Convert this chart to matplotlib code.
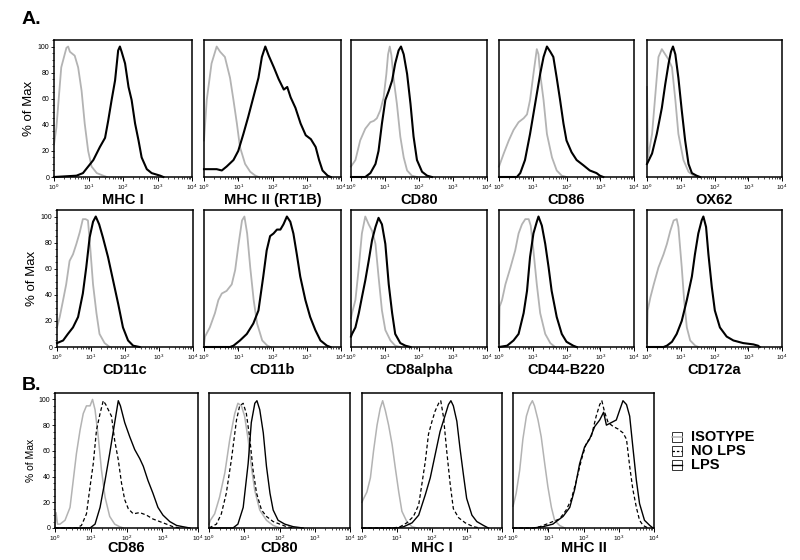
import numpy as np
import matplotlib
matplotlib.use('Agg')
import matplotlib.pyplot as plt
from matplotlib.ticker import LogLocator, MultipleLocator, NullFormatter
from matplotlib.patches import Rectangle
from matplotlib.lines import Line2D

plt.rcParams['font.family'] = ['Liberation Sans', 'DejaVu Sans']

# x values are log10 fluorescence (decades), y values are % of Max
# --- panel A, row 1 ---
mhci_iso_x = [0.00, 0.07, 0.21, 0.36, 0.41, 0.46, 0.60, 0.70, 0.80, 0.89, 0.99, 1.09, 1.24, 1.43, 1.53]
mhci_iso_y = [25, 38, 84, 99, 100, 96, 93, 84, 66, 41, 20, 8, 3, 1, 0]
mhci_x = [0.0, 0.65, 0.84, 0.99, 1.14, 1.33, 1.48, 1.57, 1.67, 1.77, 1.86, 1.91, 1.96, 2.06, 2.16, 2.25,
          2.35, 2.45, 2.54, 2.69, 2.83, 3.08, 3.17]
mhci_y = [0, 1, 3, 8, 13, 23, 30, 43, 59, 74, 97, 100, 96, 87, 69, 59, 41, 28, 15, 6, 3, 1, 0]

mhcii_iso_x = [0.0, 0.08, 0.22, 0.37, 0.47, 0.61, 0.76, 0.86, 0.96, 1.05, 1.20, 1.35, 1.50, 1.60]
mhcii_iso_y = [28, 59, 87, 100, 96, 92, 76, 59, 41, 23, 10, 4, 1, 0]
mhcii_x = [0.0, 0.37, 0.52, 0.66, 0.86, 1.00, 1.15, 1.29, 1.44, 1.59, 1.69, 1.79, 1.89, 2.04, 2.18, 2.33,
           2.43, 2.53, 2.67, 2.82, 2.97, 3.12, 3.26, 3.36, 3.46, 3.61, 3.70]
mhcii_y = [6, 6, 5, 8, 13, 20, 33, 46, 61, 76, 92, 100, 93, 84, 75, 67, 69, 61, 53, 41, 32, 29, 23, 13, 5, 1, 0]

cd80_iso_x = [0.0, 0.13, 0.27, 0.42, 0.57, 0.67, 0.76, 0.86, 0.96, 1.04, 1.09, 1.14, 1.19, 1.25, 1.35,
              1.45, 1.55, 1.65, 1.79, 1.94]
cd80_iso_y = [8, 13, 28, 37, 42, 43, 45, 51, 61, 79, 94, 100, 93, 76, 56, 31, 15, 5, 1, 0]
cd80_x = [0.0, 0.42, 0.57, 0.72, 0.81, 0.91, 1.01, 1.11, 1.21, 1.30, 1.40, 1.47, 1.55, 1.65, 1.75, 1.84,
          1.94, 2.09, 2.24, 2.38]
cd80_y = [0, 0, 3, 10, 20, 41, 59, 66, 74, 87, 97, 100, 94, 79, 56, 31, 13, 4, 1, 0]

cd86_iso_x = [0.0, 0.14, 0.29, 0.43, 0.58, 0.73, 0.83, 0.92, 1.02, 1.12, 1.17, 1.22, 1.32, 1.42, 1.57,
              1.71, 1.86, 2.00]
cd86_iso_y = [8, 18, 28, 36, 42, 45, 48, 59, 79, 98, 94, 79, 59, 33, 15, 5, 1, 0]
cd86_x = [0.0, 0.53, 0.63, 0.77, 0.92, 1.07, 1.22, 1.32, 1.42, 1.52, 1.61, 1.71, 1.81, 1.91, 2.00, 2.15,
          2.30, 2.50, 2.69, 2.89, 2.99, 3.09]
cd86_y = [0, 0, 3, 13, 33, 56, 79, 92, 100, 96, 92, 76, 59, 41, 28, 19, 13, 9, 5, 3, 1, 0]

ox62_iso_x = [0.0, 0.03, 0.15, 0.25, 0.34, 0.44, 0.54, 0.64, 0.74, 0.84, 0.93, 1.08, 1.23, 1.38, 1.52]
ox62_iso_y = [69, 15, 33, 64, 92, 98, 94, 90, 84, 59, 33, 13, 4, 1, 0]
ox62_x = [0.0, 0.15, 0.29, 0.44, 0.54, 0.64, 0.71, 0.77, 0.84, 0.93, 1.03, 1.13, 1.23, 1.33, 1.47, 1.57]
ox62_y = [10, 18, 33, 53, 71, 87, 96, 100, 94, 76, 51, 28, 10, 3, 1, 0]

# --- panel A, row 2 ---
cd11c_iso_x = [0.0, 0.08, 0.18, 0.27, 0.37, 0.47, 0.57, 0.67, 0.76, 0.84, 0.91, 0.96, 1.06, 1.16, 1.25,
               1.40, 1.55]
cd11c_iso_y = [15, 23, 36, 48, 66, 71, 79, 88, 98, 98, 97, 82, 48, 26, 10, 3, 0]
cd11c_x = [0.0, 0.18, 0.32, 0.47, 0.62, 0.76, 0.86, 0.96, 1.06, 1.14, 1.24, 1.35, 1.50, 1.65, 1.80, 1.94,
           2.09, 2.24, 2.43]
cd11c_y = [3, 5, 10, 15, 23, 41, 61, 84, 96, 100, 94, 84, 69, 51, 33, 15, 5, 1, 0]

cd11b_iso_x = [0.0, 0.03, 0.17, 0.32, 0.42, 0.52, 0.66, 0.81, 0.91, 1.01, 1.11, 1.18, 1.26, 1.35, 1.45,
               1.55, 1.70, 1.85, 1.94]
cd11b_iso_y = [2, 8, 15, 26, 36, 41, 43, 48, 59, 79, 97, 100, 87, 61, 36, 18, 5, 1, 0]
cd11b_x = [0.0, 0.76, 0.86, 1.05, 1.25, 1.44, 1.59, 1.73, 1.83, 1.93, 2.03, 2.13, 2.23, 2.32, 2.42, 2.52,
           2.61, 2.71, 2.81, 2.96, 3.10, 3.25, 3.40, 3.59, 3.69]
cd11b_y = [0, 0, 1, 5, 10, 18, 28, 54, 74, 85, 87, 90, 90, 94, 100, 96, 87, 71, 54, 36, 23, 13, 5, 1, 0]

cd8a_iso_x = [0.0, 0.03, 0.13, 0.23, 0.32, 0.42, 0.52, 0.62, 0.72, 0.81, 0.91, 1.01, 1.16, 1.30, 1.45]
cd8a_iso_y = [22, 26, 36, 61, 87, 100, 94, 89, 79, 54, 28, 13, 5, 1, 0]
cd8a_x = [0.0, 0.03, 0.13, 0.23, 0.32, 0.42, 0.52, 0.62, 0.72, 0.81, 0.91, 1.01, 1.11, 1.21, 1.30, 1.45,
          1.60, 1.75]
cd8a_y = [8, 10, 15, 26, 38, 51, 66, 82, 92, 99, 94, 79, 48, 26, 10, 3, 1, 0]

cd44_iso_x = [0.0, 0.02, 0.09, 0.19, 0.34, 0.48, 0.58, 0.68, 0.78, 0.88, 0.94, 1.02, 1.12, 1.22, 1.37,
              1.52, 1.66]
cd44_iso_y = [3, 31, 36, 48, 61, 74, 87, 94, 98, 98, 93, 74, 48, 26, 10, 3, 0]
cd44_x = [0.0, 0.24, 0.43, 0.58, 0.73, 0.83, 0.92, 1.02, 1.12, 1.17, 1.27, 1.37, 1.47, 1.56, 1.71, 1.86,
          2.00, 2.20, 2.30]
cd44_y = [0, 1, 5, 10, 26, 43, 69, 87, 96, 100, 93, 79, 61, 43, 23, 10, 4, 1, 0]

cd172_iso_x = [0.0, 0.02, 0.10, 0.20, 0.34, 0.49, 0.59, 0.69, 0.79, 0.88, 0.93, 1.03, 1.10, 1.18, 1.28,
               1.43, 1.52]
cd172_iso_y = [3, 28, 38, 48, 61, 71, 79, 89, 97, 98, 92, 61, 36, 15, 5, 1, 0]
cd172_x = [0.0, 0.49, 0.59, 0.74, 0.88, 1.03, 1.18, 1.33, 1.42, 1.52, 1.62, 1.67, 1.75, 1.82, 1.92, 2.01,
           2.16, 2.36, 2.56, 2.85, 3.15, 3.29, 3.34]
cd172_y = [0, 0, 1, 4, 10, 20, 36, 54, 71, 87, 97, 100, 92, 71, 46, 28, 15, 8, 5, 3, 2, 1, 0]

# --- panel B (isotype / no LPS / LPS) ---
b_cd86_iso_x = [0.0, 0.03, 0.07, 0.14, 0.28, 0.42, 0.51, 0.60, 0.70, 0.79, 0.88, 0.98, 1.05, 1.12, 1.21,
                1.30, 1.40, 1.53, 1.67, 1.81, 1.91]
b_cd86_iso_y = [1, 12, 3, 3, 6, 16, 37, 58, 76, 89, 95, 95, 100, 92, 71, 45, 24, 9, 3, 1, 0]
b_cd86_nolps_x = [0.0, 0.60, 0.74, 0.88, 0.98, 1.07, 1.16, 1.26, 1.35, 1.42, 1.49, 1.58, 1.67, 1.77, 1.86,
                  1.95, 2.05, 2.19, 2.37, 2.56, 2.74, 2.93, 3.12, 3.30, 3.49]
b_cd86_nolps_y = [0, 0, 2, 11, 32, 50, 76, 89, 99, 96, 92, 87, 68, 53, 35, 22, 15, 11, 12, 10, 7, 5, 3, 1, 0]
b_cd86_lps_x = [0.0, 0.98, 1.12, 1.26, 1.40, 1.53, 1.67, 1.77, 1.83, 1.95, 2.09, 2.23, 2.37, 2.47, 2.60,
                2.74, 2.88, 3.02, 3.21, 3.40, 3.58, 3.77]
b_cd86_lps_y = [0, 0, 3, 16, 37, 58, 82, 99, 95, 82, 71, 61, 54, 48, 37, 27, 16, 10, 5, 2, 1, 0]

b_cd80_iso_x = [0.0, 0.04, 0.16, 0.30, 0.45, 0.59, 0.73, 0.82, 0.92, 1.01, 1.11, 1.20, 1.30, 1.44, 1.63,
                1.82, 2.01]
b_cd80_iso_y = [3, 6, 11, 24, 43, 69, 89, 97, 95, 87, 69, 48, 29, 14, 6, 2, 0]
b_cd80_nolps_x = [0.0, 0.07, 0.21, 0.35, 0.49, 0.64, 0.78, 0.87, 0.97, 1.06, 1.16, 1.25, 1.35, 1.49, 1.63,
                  1.82, 2.01, 2.20, 2.39]
b_cd80_nolps_y = [0, 1, 3, 11, 27, 54, 84, 95, 97, 89, 69, 45, 27, 14, 9, 5, 3, 1, 0]
b_cd80_lps_x = [0.0, 0.68, 0.82, 0.97, 1.11, 1.20, 1.30, 1.36, 1.44, 1.54, 1.63, 1.73, 1.82, 1.96, 2.15,
                2.39, 2.67]
b_cd80_lps_y = [0, 0, 3, 16, 50, 82, 97, 99, 92, 74, 48, 27, 14, 6, 3, 1, 0]

b_mhci_iso_x = [0.0, 0.03, 0.14, 0.24, 0.33, 0.43, 0.52, 0.59, 0.67, 0.76, 0.86, 0.95, 1.05, 1.14, 1.28,
                1.43, 1.57]
b_mhci_iso_y = [20, 22, 28, 39, 60, 80, 93, 99, 91, 80, 65, 47, 28, 13, 5, 1, 0]
b_mhci_nolps_x = [0.0, 0.90, 1.09, 1.28, 1.47, 1.62, 1.71, 1.81, 1.90, 2.00, 2.09, 2.19, 2.25, 2.33, 2.42,
                  2.52, 2.61, 2.76, 2.95, 3.18, 3.37]
b_mhci_nolps_y = [0, 0, 1, 4, 9, 18, 34, 52, 73, 83, 91, 97, 99, 86, 60, 34, 15, 8, 4, 1, 0]
b_mhci_lps_x = [0.0, 1.00, 1.19, 1.43, 1.62, 1.81, 1.95, 2.09, 2.23, 2.38, 2.47, 2.54, 2.61, 2.71, 2.80,
                2.90, 2.99, 3.14, 3.28, 3.47, 3.61]
b_mhci_lps_y = [0, 0, 1, 4, 10, 26, 39, 57, 75, 88, 96, 99, 95, 83, 62, 41, 23, 10, 5, 2, 0]

b_mhcii_iso_x = [0.0, 0.02, 0.09, 0.19, 0.28, 0.38, 0.47, 0.55, 0.61, 0.71, 0.80, 0.90, 0.99, 1.09, 1.18,
                 1.32, 1.47]
b_mhcii_iso_y = [17, 19, 27, 45, 69, 87, 95, 99, 95, 84, 71, 50, 32, 16, 6, 2, 0]
b_mhcii_nolps_x = [0.0, 0.57, 0.76, 0.95, 1.13, 1.32, 1.51, 1.65, 1.80, 1.94, 2.08, 2.22, 2.36, 2.46, 2.52,
                   2.60, 2.70, 2.84, 2.98, 3.12, 3.22, 3.31, 3.40, 3.50, 3.59, 3.69, 3.83]
b_mhcii_nolps_y = [0, 0, 1, 3, 5, 7, 14, 22, 37, 53, 66, 71, 87, 96, 99, 90, 82, 79, 77, 74, 69, 48, 30, 16,
                   6, 2, 0]
b_mhcii_lps_x = [0.0, 0.57, 0.85, 1.13, 1.42, 1.61, 1.75, 1.89, 2.03, 2.17, 2.32, 2.46, 2.57, 2.65, 2.79,
                 2.93, 3.03, 3.12, 3.22, 3.31, 3.40, 3.50, 3.59, 3.73, 3.88, 3.97]
b_mhcii_lps_y = [0, 0, 1, 3, 9, 16, 30, 50, 63, 69, 79, 84, 90, 80, 82, 84, 92, 99, 96, 87, 63, 37, 19, 6,
                 2, 0]

legend_labels = ['ISOTYPE', 'NO LPS', 'LPS']

GRAY = '#b3b3b3'
W, H = 800, 560

# styles: (color, linestyle, linewidth)
STY = {
    'iso': (GRAY, '-', 1.3),
    'pos': ('black', '-', 1.5),
    'iso_b': (GRAY, '-', 1.1),
    'nolps': ('black', (0, (3, 2)), 0.9),
    'lps': ('black', '-', 1.0),
}

# (label, left, top, width, height) in pixels, curves
panels = [
    ('MHC I', (54, 40, 138, 137), [(mhci_iso_x, mhci_iso_y, 'iso'), (mhci_x, mhci_y, 'pos')]),
    ('MHC II (RT1B)', (204, 40, 137, 137), [(mhcii_iso_x, mhcii_iso_y, 'iso'), (mhcii_x, mhcii_y, 'pos')]),
    ('CD80', (351, 40, 136, 137), [(cd80_iso_x, cd80_iso_y, 'iso'), (cd80_x, cd80_y, 'pos')]),
    ('CD86', (499, 40, 135, 137), [(cd86_iso_x, cd86_iso_y, 'iso'), (cd86_x, cd86_y, 'pos')]),
    ('OX62', (647, 40, 135, 137), [(ox62_iso_x, ox62_iso_y, 'iso'), (ox62_x, ox62_y, 'pos')]),
    ('CD11c', (57, 210, 136, 137), [(cd11c_iso_x, cd11c_iso_y, 'iso'), (cd11c_x, cd11c_y, 'pos')]),
    ('CD11b', (204, 210, 137, 137), [(cd11b_iso_x, cd11b_iso_y, 'iso'), (cd11b_x, cd11b_y, 'pos')]),
    ('CD8alpha', (351, 210, 136, 137), [(cd8a_iso_x, cd8a_iso_y, 'iso'), (cd8a_x, cd8a_y, 'pos')]),
    ('CD44-B220', (499, 210, 135, 137), [(cd44_iso_x, cd44_iso_y, 'iso'), (cd44_x, cd44_y, 'pos')]),
    ('CD172a', (647, 210, 135, 137), [(cd172_iso_x, cd172_iso_y, 'iso'), (cd172_x, cd172_y, 'pos')]),
    ('CD86', (55, 393, 143, 135), [(b_cd86_iso_x, b_cd86_iso_y, 'iso_b'),
                                   (b_cd86_nolps_x, b_cd86_nolps_y, 'nolps'),
                                   (b_cd86_lps_x, b_cd86_lps_y, 'lps')]),
    ('CD80', (209, 393, 141, 135), [(b_cd80_iso_x, b_cd80_iso_y, 'iso_b'),
                                    (b_cd80_nolps_x, b_cd80_nolps_y, 'nolps'),
                                    (b_cd80_lps_x, b_cd80_lps_y, 'lps')]),
    ('MHC I', (362, 393, 140, 135), [(b_mhci_iso_x, b_mhci_iso_y, 'iso_b'),
                                     (b_mhci_nolps_x, b_mhci_nolps_y, 'nolps'),
                                     (b_mhci_lps_x, b_mhci_lps_y, 'lps')]),
    ('MHC II', (513, 393, 141, 135), [(b_mhcii_iso_x, b_mhcii_iso_y, 'iso_b'),
                                      (b_mhcii_nolps_x, b_mhcii_nolps_y, 'nolps'),
                                      (b_mhcii_lps_x, b_mhcii_lps_y, 'lps')]),
]
first_in_row = {0, 5, 10}

fig = plt.figure(figsize=(W / 100, H / 100), dpi=100)

for i, (label, (l, t, w, h), curves) in enumerate(panels):
    ax = fig.add_axes([l / W, 1 - (t + h) / H, w / W, h / H])
    is_b = i >= 10
    for xs, ys, key in curves:
        c, ls, lw = STY[key]
        ax.plot(np.power(10.0, xs), ys, color=c, linestyle=ls, linewidth=lw, clip_on=False,
                zorder=2 if key.startswith('iso') else 3)
    ax.set_xscale('log')
    ax.set_xlim(1, 1e4)
    ax.set_ylim(0, 105)
    ax.xaxis.set_major_locator(LogLocator(base=10, numticks=6))
    ax.xaxis.set_minor_locator(LogLocator(base=10, subs=np.arange(2, 10), numticks=12))
    ax.xaxis.set_minor_formatter(NullFormatter())
    ax.tick_params(axis='x', which='major', length=3, width=0.7, labelsize=4.5, pad=1)
    ax.tick_params(axis='x', which='minor', length=1.6, width=0.5)
    for sp in ax.spines.values():
        sp.set_linewidth(1.1)
    if i in first_in_row:
        ax.set_yticks([0, 20, 40, 60, 80, 100])
        ax.yaxis.set_minor_locator(MultipleLocator(5))
        ax.tick_params(axis='y', which='major', length=2.5, width=0.6, labelsize=5, pad=1)
        ax.tick_params(axis='y', which='minor', length=1.3, width=0.5)
        ax.set_ylabel('% of Max', fontsize=7.5 if is_b else 9.5, labelpad=2)
    else:
        ax.set_yticks([])
    ax.set_xlabel(label, fontsize=10.5, fontweight='bold', labelpad=-1 if is_b else 1)

fig.text(22 / W, 1 - 20 / H, 'A.', fontsize=14, fontweight='bold', va='center', ha='left')
fig.text(22 / W, 1 - 386 / H, 'B.', fontsize=14, fontweight='bold', va='center', ha='left')

# legend: small boxes with line samples
leg_styles = ['iso_b', 'nolps', 'lps']
for k, (txt, key) in enumerate(zip(legend_labels, leg_styles)):
    yc = 437 + k * 14
    fig.patches.append(Rectangle((672 / W, 1 - (yc + 5) / H), 10 / W, 10 / H, transform=fig.transFigure,
                                 fill=False, edgecolor='#333333', linewidth=0.7))
    c, ls, lw = STY[key]
    fig.lines.append(Line2D([672 / W, 682 / W], [1 - yc / H, 1 - yc / H], transform=fig.transFigure,
                            color=c, linestyle=(0, (2, 1.5)) if key == 'nolps' else '-', linewidth=lw))
    fig.text(691 / W, 1 - yc / H, txt, fontsize=10.5, fontweight='bold', va='center', ha='left')

fig.savefig('out.png', dpi=100)
